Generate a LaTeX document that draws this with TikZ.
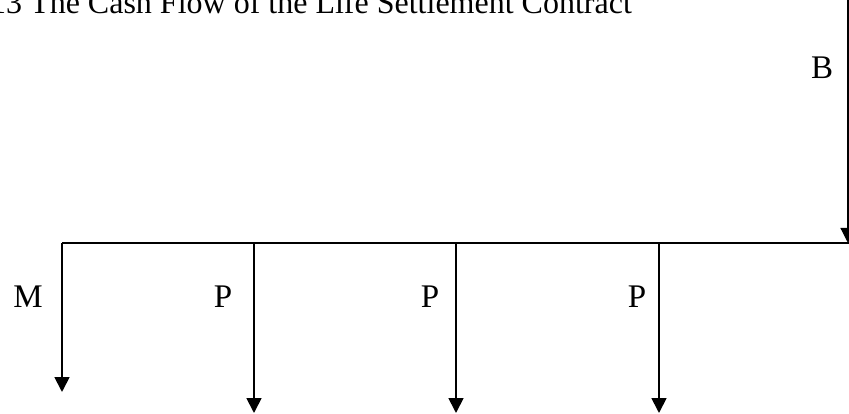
\documentclass[tikz,border=0pt]{standalone}
\usepackage{fontspec}
\setmainfont{Liberation Serif}
\usetikzlibrary{arrows.meta}
\begin{document}
\begin{tikzpicture}[x=1pt,y=-1pt,
  flow/.style={line width=1.8pt,-{Triangle[width=15pt,length=15pt]}},
  axisline/.style={line width=1.8pt},
  lbl/.style={inner sep=0pt,anchor=base,font=\fontsize{33}{38}\selectfont}]
\useasboundingbox (0,0) rectangle (849,414);
% title, partly above the top edge
\node[inner sep=0pt,anchor=base west,font=\fontsize{32}{38}\selectfont] (title) at (-10,14)
  {13 The Cash Flow of the Life Settlement Contract};
% time line
\coordinate (t0) at (62,243);
\coordinate (t1) at (254,243);
\coordinate (t2) at (456,243);
\coordinate (t3) at (659,243);
\coordinate (tn) at (849,243);
\draw[axisline] (t0) -- (tn);
% cash flows
\coordinate (m) at (62,392);
\coordinate (p1) at (254,413);
\coordinate (p2) at (456,413);
\coordinate (p3) at (659,413);
\draw[flow] (t0) -- (m);
\draw[flow] (t1) -- (p1);
\draw[flow] (t2) -- (p2);
\draw[flow] (t3) -- (p3);
\coordinate (btop) at (848,-2);
\coordinate (bend) at (848,243);
\draw[line width=1.2pt,-{Triangle[width=15pt,length=15pt]}] (btop) -- (bend);
% labels
\node[lbl] (lm) at (28,307) {M};
\node[lbl] (lp1) at (223,307) {P};
\node[lbl] (lp2) at (430,307) {P};
\node[lbl] (lp3) at (637,307) {P};
\node[lbl] (lb) at (822,79) {B};
\end{tikzpicture}
\end{document}
